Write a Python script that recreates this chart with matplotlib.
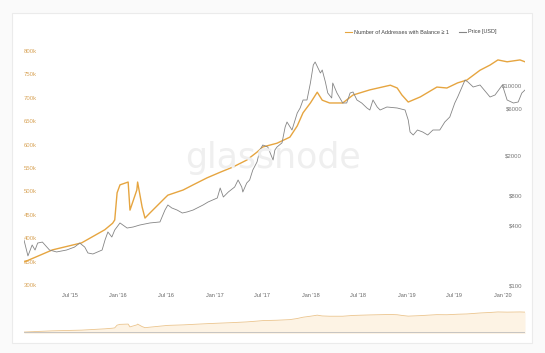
import numpy as np
import pandas as pd
import matplotlib
matplotlib.use('Agg')
import matplotlib.pyplot as plt
from matplotlib.patches import Rectangle
from matplotlib.lines import Line2D

plt.rcParams['font.family'] = ['Liberation Sans', 'DejaVu Sans']

## Data
# Number of addresses with balance >= 1 (thousands)
addr_dates = ['2015-01-08', '2015-04-26', '2015-08-15', '2015-11-11', '2015-12-11', '2015-12-19',
              '2015-12-28', '2016-01-08', '2016-02-08', '2016-02-15', '2016-03-12', '2016-03-15',
              '2016-04-01', '2016-04-12', '2016-05-01', '2016-06-27', '2016-07-08', '2016-09-04',
              '2016-10-12', '2016-12-04', '2017-01-23', '2017-03-12', '2017-05-04', '2017-06-12',
              '2017-07-04', '2017-08-27', '2017-10-15', '2017-11-12', '2017-12-04', '2018-01-01',
              '2018-01-27', '2018-02-15', '2018-03-15', '2018-05-04', '2018-06-12', '2018-08-15',
              '2018-11-01', '2018-11-27', '2018-12-15', '2019-01-08', '2019-02-23', '2019-04-27',
              '2019-06-04', '2019-07-15', '2019-08-19', '2019-10-08', '2019-11-15', '2019-12-15',
              '2020-01-19', '2020-03-08', '2020-03-27']
addr_k = [349, 375, 390, 418, 432, 439,
          497, 514, 520, 460, 503, 520,
          467, 443, 454, 486, 492, 503,
          514, 529, 541, 552, 567, 584,
          595, 603, 616, 640, 668, 689,
          712, 695, 689, 689, 706, 717,
          727, 721, 706, 691, 702, 723,
          721, 732, 738, 759, 770, 781,
          777, 781, 777]

# Price [USD]
price_dates = ['2015-01-08', '2015-01-23', '2015-02-08', '2015-02-19', '2015-03-01', '2015-03-19',
               '2015-04-15', '2015-05-12', '2015-06-19', '2015-07-19', '2015-08-08', '2015-08-27',
               '2015-09-08', '2015-09-27', '2015-11-01', '2015-11-12', '2015-11-23', '2015-12-08',
               '2015-12-19', '2016-01-08', '2016-02-04', '2016-02-27', '2016-03-23', '2016-05-01',
               '2016-06-08', '2016-06-27', '2016-07-08', '2016-07-23', '2016-08-12', '2016-09-01',
               '2016-09-19', '2016-10-12', '2016-11-19', '2016-12-08', '2017-01-12', '2017-01-23',
               '2017-02-04', '2017-02-23', '2017-03-19', '2017-04-01', '2017-04-15', '2017-04-19',
               '2017-05-04', '2017-05-15', '2017-05-27', '2017-06-12', '2017-06-23', '2017-07-04',
               '2017-07-23', '2017-08-12', '2017-08-19', '2017-08-27', '2017-09-15', '2017-09-27',
               '2017-10-04', '2017-10-23', '2017-11-12', '2017-11-23', '2017-12-04', '2017-12-19',
               '2018-01-01', '2018-01-12', '2018-01-19', '2018-02-08', '2018-02-15', '2018-02-27',
               '2018-03-08', '2018-03-23', '2018-03-27', '2018-04-12', '2018-04-23', '2018-05-04',
               '2018-05-19', '2018-06-01', '2018-06-12', '2018-06-27', '2018-07-15', '2018-08-04',
               '2018-08-15', '2018-08-27', '2018-09-12', '2018-09-23', '2018-10-19', '2018-11-27',
               '2018-12-27', '2019-01-08', '2019-01-15', '2019-01-27', '2019-02-12', '2019-03-04',
               '2019-03-23', '2019-04-12', '2019-05-08', '2019-05-27', '2019-06-15', '2019-07-04',
               '2019-07-15', '2019-08-12', '2019-08-23', '2019-09-12', '2019-10-08', '2019-11-15',
               '2019-12-04', '2020-01-01', '2020-01-19', '2020-02-12', '2020-03-01', '2020-03-15',
               '2020-03-27']
price_usd = [288, 200, 257, 229, 269, 275,
             229, 219, 229, 245, 269, 245,
             214, 209, 229, 288, 347, 309,
             363, 427, 380, 389, 407, 427,
             437, 575, 646, 603, 575, 537,
             550, 575, 646, 692, 759, 955,
             776, 871, 977, 1148, 977, 871,
             1072, 1148, 1445, 1738, 2291, 2570,
             2455, 1820, 2291, 2455, 2700, 3890,
             4365, 3631, 5370, 6026, 7244, 7244,
             10715, 16218, 17378, 13490, 14454, 10965,
             8511, 7586, 10715, 8511, 7586, 6761,
             6761, 8511, 8710, 7244, 6761, 6026,
             5754, 7244, 6166, 5754, 6166, 6026,
             5754, 4571, 3467, 3236, 3631, 3467,
             3236, 3631, 3631, 4365, 4898, 6761,
             7762, 11482, 10965, 9772, 10233, 7762,
             8128, 10233, 7244, 6761, 6918, 8511,
             9120]

x_ticks = ['2015-07-01', '2016-01-01', '2016-07-01', '2017-01-01', '2017-07-01',
           '2018-01-01', '2018-07-01', '2019-01-01', '2019-07-01', '2020-01-01']
x_labels = ["Jul '15", "Jan '16", "Jul '16", "Jan '17", "Jul '17",
            "Jan '18", "Jul '18", "Jan '19", "Jul '19", "Jan '20"]
left_ticks = [300, 350, 400, 450, 500, 550, 600, 650, 700, 750, 800]
right_ticks = [100, 400, 800, 2000, 6000, 10000]

addr_t = pd.to_datetime(addr_dates)
price_t = pd.to_datetime(price_dates)

orange = '#E6A540'
grey = '#858585'

W, H = 545, 353
fig = plt.figure(figsize=(W / 100, H / 100), dpi=100, facecolor='#fafafa')

def px(l, t, r, b):
    return [l / W, 1 - b / H, (r - l) / W, (b - t) / H]

# card
fig.add_artist(Rectangle((12 / W, 1 - 343 / H), (532 - 12) / W, (343 - 13) / H,
                         transform=fig.transFigure, facecolor='white',
                         edgecolor='#ebebeb', lw=0.8, zorder=0))

# watermark
fig.text(273 / W, 1 - 158 / H, 'glassnode', fontsize=25, color='#efefef',
         ha='center', va='center', family='DejaVu Sans', zorder=1)

ax = fig.add_axes(px(24, 45, 525, 290))
ax.patch.set_alpha(0)
ax.plot(addr_t, addr_k, color=orange, lw=1.0, zorder=3)
ax.set_xlim(addr_t[0], addr_t[-1])
ax.set_ylim(289.3, 812.9)
ax.set_yticks(left_ticks)
ax.set_yticklabels(['%dk' % v for v in left_ticks])
ax.tick_params(axis='y', length=0, pad=0, labelsize=4.3, labelcolor='#D9A55A')
for lab in ax.get_yticklabels():
    lab.set_horizontalalignment('left')
ax.set_xticks(pd.to_datetime(x_ticks))
ax.set_xticklabels(x_labels)
ax.tick_params(axis='x', length=0, pad=2, labelsize=4.0, labelcolor='#666666')
for s in ax.spines.values():
    s.set_visible(False)

ax2 = ax.twinx()
ax2.plot(price_t, price_usd, color=grey, lw=0.6, zorder=2)
ax2.set_yscale('log')
ax2.set_ylim(91.2, 25704)
ax2.set_yticks(right_ticks)
ax2.set_yticklabels(['$%d' % v for v in right_ticks])
ax2.yaxis.set_minor_locator(matplotlib.ticker.NullLocator())
ax2.tick_params(axis='y', length=0, pad=-2, labelsize=4.3, labelcolor='#777777')
for lab in ax2.get_yticklabels():
    lab.set_horizontalalignment('right')
for s in ax2.spines.values():
    s.set_visible(False)

# legend
fig.add_artist(Line2D([345 / W, 352 / W], [1 - 32 / H] * 2, color=orange, lw=0.8))
fig.text(354 / W, 1 - 32 / H, 'Number of Addresses with Balance \u2265 1', fontsize=4.0,
         color='#444444', va='center', ha='left')
fig.add_artist(Line2D([459 / W, 466 / W], [1 - 32 / H] * 2, color=grey, lw=0.8))
fig.text(468 / W, 1 - 32 / H, 'Price [USD]', fontsize=4.0, color='#444444',
         va='center', ha='left')

# navigator
nav = fig.add_axes(px(24, 303, 525, 333))
nav.patch.set_alpha(0)
nav.fill_between(addr_t, addr_k, 0, color='#fdf3e4', lw=0)
nav.plot(addr_t, addr_k, color='#ebc48c', lw=0.6)
nav.set_xlim(addr_t[0], addr_t[-1])
nav.set_ylim(328.5, 973.5)
nav.axhline(350, color='#bdbdbd', lw=0.6)
nav.set_xticks([])
nav.set_yticks([])
for s in nav.spines.values():
    s.set_visible(False)

fig.savefig('out.png', dpi=100, facecolor=fig.get_facecolor())
